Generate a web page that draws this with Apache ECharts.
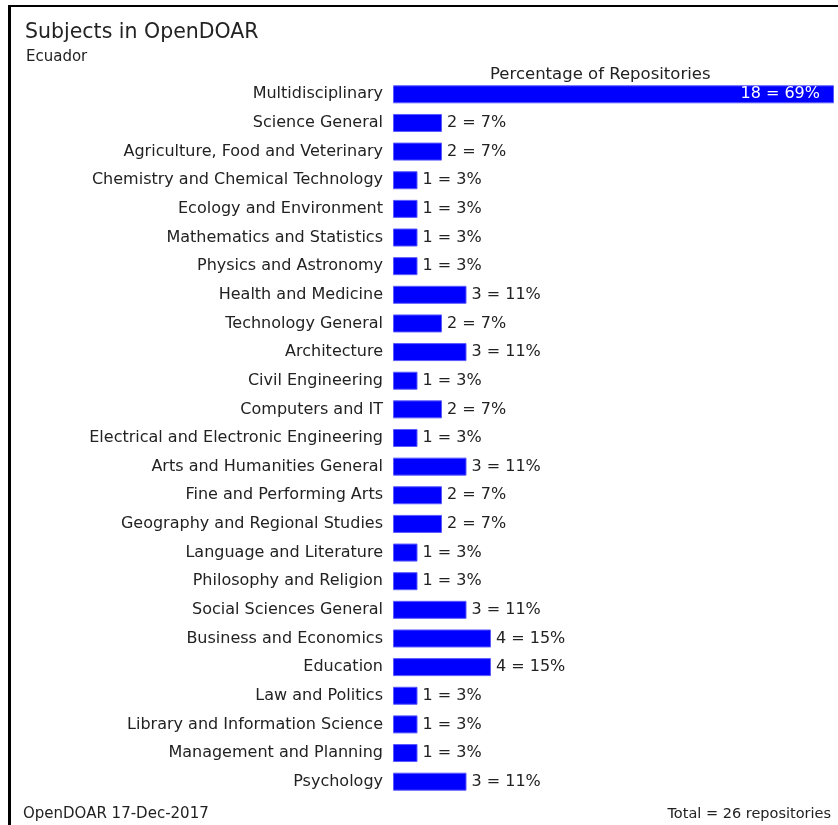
<!DOCTYPE html>
<html>
<head>
<meta charset="utf-8">
<script src="https://cdn.jsdelivr.net/npm/echarts@6/dist/echarts.min.js"></script>
<style>
  html, body { margin: 0; padding: 0; background: #fff; }
  #main { width: 838px; height: 825px; }
</style>
</head>
<body>
<div id="main"></div>
<script>
const subjects = [
  'Multidisciplinary', 'Science General', 'Agriculture, Food and Veterinary',
  'Chemistry and Chemical Technology', 'Ecology and Environment',
  'Mathematics and Statistics', 'Physics and Astronomy', 'Health and Medicine',
  'Technology General', 'Architecture', 'Civil Engineering', 'Computers and IT',
  'Electrical and Electronic Engineering', 'Arts and Humanities General',
  'Fine and Performing Arts', 'Geography and Regional Studies',
  'Language and Literature', 'Philosophy and Religion', 'Social Sciences General',
  'Business and Economics', 'Education', 'Law and Politics',
  'Library and Information Science', 'Management and Planning', 'Psychology'
];
const counts = [18, 2, 2, 1, 1, 1, 1, 3, 2, 3, 1, 2, 1, 3, 2, 2, 1, 1, 3, 4, 4, 1, 1, 1, 3];
const percents = [69, 7, 7, 3, 3, 3, 3, 11, 7, 11, 3, 7, 3, 11, 7, 7, 3, 3, 11, 15, 15, 3, 3, 3, 11];
const total = 26;

const font = 'DejaVu Sans, Arial, sans-serif';
const ink = '#222';

const chart = echarts.init(document.getElementById('main'));

chart.setOption({
  backgroundColor: '#fff',
  animation: false,
  title: [
    { text: 'Subjects in OpenDOAR', left: 20, top: 17,
      textStyle: { fontFamily: font, fontSize: 20.5, fontWeight: 'normal', color: ink } },
    { text: 'Ecuador', left: 21, top: 45,
      textStyle: { fontFamily: font, fontSize: 15, fontWeight: 'normal', color: ink } },
    { text: 'Percentage of Repositories', left: 485, top: 61,
      textStyle: { fontFamily: font, fontSize: 16.5, fontWeight: 'normal', color: ink } },
    { text: 'OpenDOAR 17-Dec-2017', left: 18, top: 802,
      textStyle: { fontFamily: font, fontSize: 15, fontWeight: 'normal', color: ink } },
    { text: 'Total = ' + total + ' repositories', right: 2, top: 802,
      textStyle: { fontFamily: font, fontSize: 14.5, fontWeight: 'normal', color: ink } }
  ],
  graphic: [
    { type: 'line', shape: { x1: 9.5, y1: 6, x2: 838, y2: 6 },
      style: { stroke: '#000', lineWidth: 2 } },
    { type: 'line', shape: { x1: 9.5, y1: 5, x2: 9.5, y2: 825 },
      style: { stroke: '#000', lineWidth: 3 } }
  ],
  grid: { left: 393, right: 4, top: 80, bottom: 29 },
  xAxis: {
    type: 'value', min: 0, max: 18,
    show: false
  },
  yAxis: {
    type: 'category',
    data: subjects,
    inverse: true,
    axisLine: { show: false },
    axisTick: { show: false },
    axisLabel: { fontFamily: font, fontSize: 16, color: ink, margin: 10 }
  },
  series: [{
    type: 'bar',
    data: counts.map((c, i) => ({
      value: c,
      label: i === 0 ? { position: 'insideRight', distance: 14, color: '#fff' } : undefined
    })),
    barWidth: 18,
    itemStyle: { color: '#0000ff', borderColor: '#5a5aff', borderWidth: 1 },
    label: {
      show: true,
      position: 'right',
      distance: 5,
      fontFamily: font,
      fontSize: 16,
      color: ink,
      formatter: p => counts[p.dataIndex] + ' = ' + percents[p.dataIndex] + '%'
    }
  }]
});
</script>
</body>
</html>
